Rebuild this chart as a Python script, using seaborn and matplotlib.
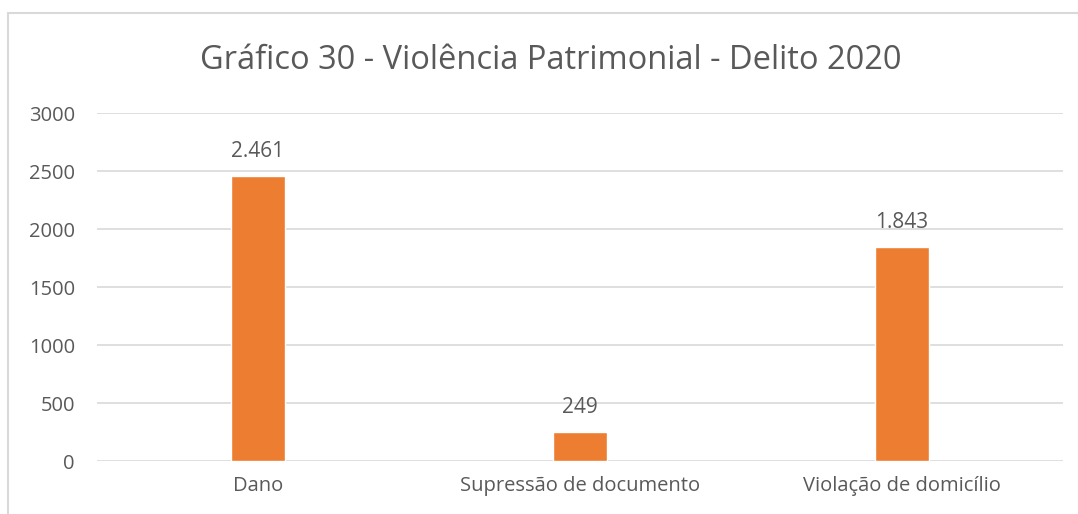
import matplotlib
matplotlib.use('Agg')
import matplotlib.pyplot as plt
from matplotlib.patches import Rectangle
import seaborn as sns
import pandas as pd

categories = ['Dano', 'Supressão de documento', 'Violação de domicílio']
values = [2461, 249, 1843]
value_labels = ['2.461', '249', '1.843']
y_ticks = [0, 500, 1000, 1500, 2000, 2500, 3000]

sns.set_theme(style='white')
plt.rcParams['font.family'] = ['Open Sans', 'DejaVu Sans']

text_color = '#595959'
bar_color = '#ED7D31'

fig = plt.figure(figsize=(10.78, 5.14), dpi=100)
ax = fig.add_axes([0.090, 0.1031, 0.896, 0.677])

df = pd.DataFrame({'cat': categories, 'val': values})
sns.barplot(data=df, x='cat', y='val', color=bar_color, saturation=1,
            width=0.17, ax=ax)

ax.set_ylim(0, 3000)
ax.set_yticks(y_ticks)
ax.set_xlim(-0.5, 2.5)
ax.yaxis.grid(True, color='#D9D9D9', linewidth=1.2)
ax.set_axisbelow(True)
for s in ax.spines.values():
    s.set_visible(False)
ax.set_xlabel('')
ax.set_ylabel('')
ax.tick_params(axis='y', length=0, labelsize=14.5, colors=text_color, pad=16)
ax.tick_params(axis='x', length=0, labelsize=14.5, colors=text_color, pad=11)

for i, (v, lab) in enumerate(zip(values, value_labels)):
    ax.annotate(lab, (i, v), xytext=(0, 10), textcoords='offset points',
                ha='center', va='bottom', fontsize=15, color=text_color)

fig.text(0.511, 0.883, 'Gráfico 30 - Violência Patrimonial - Delito 2020',
         ha='center', va='center', fontsize=23.5, color=text_color)

# chart border (open at right and bottom, as in the source)
fig.patches.append(Rectangle((8 / 1078, -0.05), 1.2, 1 - 13 / 514 + 0.05,
                             transform=fig.transFigure, fill=False,
                             edgecolor='#D9D9D9', linewidth=1.5))

fig.savefig('out.png', dpi=100, facecolor='white')
